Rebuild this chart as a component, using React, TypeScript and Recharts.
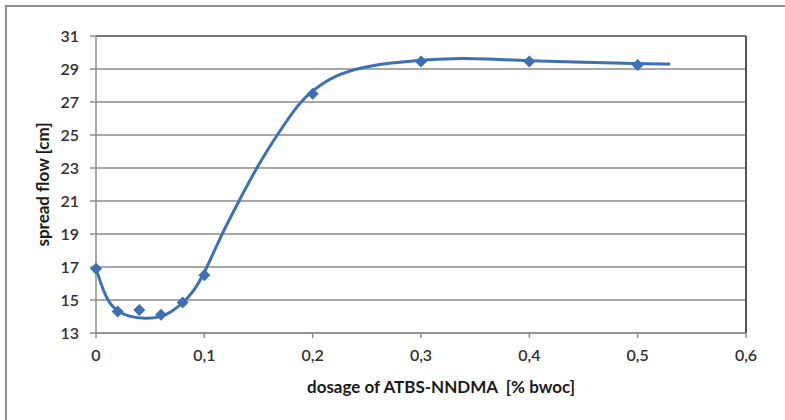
import {
  ComposedChart,
  Line,
  Scatter,
  XAxis,
  YAxis,
  CartesianGrid,
  ReferenceLine,
} from "recharts"

// measured points (markers)
const dosage = [0, 0.02, 0.04, 0.06, 0.08, 0.1, 0.2, 0.3, 0.4, 0.5]
const spreadFlow = [16.9, 14.3, 14.4, 14.1, 14.85, 16.5, 27.5, 29.45, 29.45, 29.25]

// smoothed trend curve
const curveDosage = [
  0, 0.01, 0.02, 0.03, 0.045, 0.06, 0.07, 0.08, 0.09, 0.1, 0.116, 0.132, 0.148,
  0.167, 0.188, 0.2, 0.22, 0.245, 0.27, 0.3, 0.33, 0.36, 0.4, 0.45, 0.5, 0.53,
]
const curveFlow = [
  16.9, 14.9, 14.3, 14.0, 13.85, 13.95, 14.3, 14.8, 15.5, 16.6, 19, 21, 23, 25,
  27, 27.7, 28.6, 29.1, 29.35, 29.55, 29.65, 29.62, 29.5, 29.4, 29.32, 29.3,
]

const xTicks = [0, 0.1, 0.2, 0.3, 0.4, 0.5, 0.6]
const yTicks = [13, 15, 17, 19, 21, 23, 25, 27, 29, 31]

const xTitle = "dosage of ATBS-NNDMA \u00a0[% bwoc]"
const yTitle = "spread flow [cm]"

const points = dosage.map((x, i) => ({ x, y: spreadFlow[i] }))
const curve = curveDosage.map((x, i) => ({ x, y: curveFlow[i] }))

const BLUE = "#3b6fb6"
const FONT = "Lato, 'Open Sans', sans-serif"

function Diamond({ cx, cy }: { cx?: number; cy?: number }) {
  if (cx === undefined || cy === undefined) return null
  const r = 6
  return (
    <polygon
      points={`${cx},${cy - r} ${cx + r},${cy} ${cx},${cy + r} ${cx - r},${cy}`}
      fill={BLUE}
    />
  )
}

const fmt = (v: number) => String(v).replace(".", ",")

export default function App() {
  return (
    <div
      style={{
        position: "absolute",
        left: 0,
        top: 0,
        width: 785,
        height: 420,
        overflow: "hidden",
        background: "#fff",
      }}
    >
      <ComposedChart
        width={785}
        height={420}
        margin={{ top: 36, right: 39, bottom: 0, left: 0 }}
      >
        <CartesianGrid vertical={false} stroke="#a8a8a8" strokeWidth={2} />
        <XAxis
          dataKey="x"
          type="number"
          domain={[0, 0.6]}
          ticks={xTicks}
          tickFormatter={fmt}
          height={87}
          stroke="#8c8c8c"
          strokeWidth={1.5}
          tickSize={5}
          tickMargin={12}
          tick={{ fill: "#303030", fontSize: 16, fontWeight: 600, fontFamily: FONT }}
          label={{
            value: xTitle,
            position: "insideBottom",
            offset: 27,
            dx: 20,
            style: {
              fill: "#1a1a1a",
              fontSize: 17,
              fontWeight: 700,
              fontFamily: FONT,
            },
          }}
        />
        <YAxis
          dataKey="y"
          type="number"
          domain={[13, 31]}
          ticks={yTicks}
          width={96}
          stroke="#8c8c8c"
          strokeWidth={1.5}
          tickSize={6}
          tickMargin={11}
          tick={{ fill: "#303030", fontSize: 16, fontWeight: 600, fontFamily: FONT }}
          label={{
            value: yTitle,
            angle: -90,
            position: "insideLeft",
            offset: 43,
            style: {
              textAnchor: "middle",
              fill: "#1a1a1a",
              fontSize: 17,
              fontWeight: 700,
              fontFamily: FONT,
            },
          }}
        />
        <ReferenceLine y={31} stroke="#7a7a7a" strokeWidth={2} />
        <ReferenceLine x={0.6} stroke="#555" strokeWidth={2} />
        <Line
          data={curve}
          dataKey="y"
          type="basis"
          stroke={BLUE}
          strokeWidth={3}
          dot={false}
          activeDot={false}
          isAnimationActive={false}
        />
        <Scatter
          data={points}
          dataKey="y"
          shape={<Diamond />}
          isAnimationActive={false}
        />
      </ComposedChart>
      {/* outer chart frame, cut off at the right and bottom like the scan */}
      <div
        style={{
          position: "absolute",
          left: 5,
          top: 5,
          width: 820,
          height: 440,
          borderLeft: "2px solid #8f8f8f",
          borderTop: "2px solid #8f8f8f",
          pointerEvents: "none",
          zIndex: 5,
        }}
      />
    </div>
  )
}
